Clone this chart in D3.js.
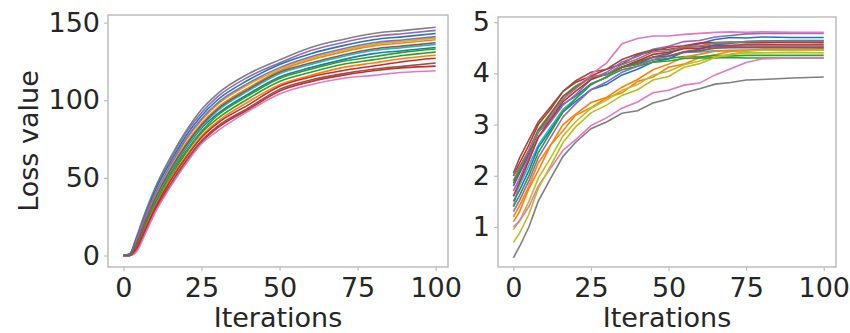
<!DOCTYPE html>
<html><head><meta charset="utf-8">
<script src="https://cdn.jsdelivr.net/npm/d3@7"></script>
<style>
body{margin:0;background:#fff}
text{font-family:"DejaVu Sans",sans-serif;fill:#262626}
</style>
</head><body>
<svg id="chart" width="850" height="333"></svg>
<script>
// ---------- data ----------
const xTicks = [0, 25, 50, 75, 100];
const leftYTicks = [0, 50, 100, 150];
const rightYTicks = [1, 2, 3, 4, 5];
const xLabel = "Iterations";
const yLabel = "Loss value";

const leftIters = [0, 2, 4, 7, 10, 15, 20, 25, 30, 40, 50, 60, 70, 80, 90, 100];
const leftSeries = [
  [0,0,6,21,34,53,69,82,91,104,115,121,126,130,132,134],
  [0,0,8,23,37,56,72,85,95,108,119,126,131,135,137,139],
  [0,0,5,19,32,50,66,79,88,101,112,118,123,126,129,131],
  [0,0,3,15,28,45,60,73,82,94,106,112,116,119,121,122],
  [0,0,10,27,42,62,79,92,102,115,124,132,137,141,143,145],
  [0,0,3,16,29,46,61,74,83,95,107,113,117,120,122,124],
  [0,0,2,14,27,44,59,72,80,93,104,110,114,116,118,119],
  [0,1,11,28,43,63,80,94,104,117,126,134,139,143,145,147],
  [0,0,9,24,38,57,74,87,97,110,120,127,132,136,138,140],
  [0,0,7,22,35,54,70,83,93,106,117,123,128,132,134,136],
  [0,1,10,26,41,60,77,90,100,113,123,130,135,139,141,143],
  [0,0,4,18,31,49,64,77,86,99,110,116,121,124,127,129],
  [0,0,5,20,33,52,67,80,90,103,114,120,125,128,131,133],
  [0,0,4,17,30,48,63,76,85,97,109,115,119,122,125,127],
  [0,0,9,25,39,58,75,88,98,111,121,128,133,137,139,141],
  [0,0,7,22,36,55,71,84,94,107,118,124,129,133,135,137]
];

const rightIters = [0, 2, 5, 8, 12, 16, 20, 25, 30, 35, 40, 45, 50, 55, 60, 65, 70, 75, 80, 90, 100];
const rightSeries = [
  [1.80,2.05,2.40,2.85,3.10,3.40,3.55,3.80,3.92,4.12,4.18,4.32,4.38,4.52,4.58,4.66,4.70,4.69,4.71,4.70,4.70],
  [1.10,1.30,1.75,2.10,2.60,2.88,3.18,3.33,3.52,3.62,3.84,3.93,4.12,4.18,4.31,4.36,4.43,4.44,4.47,4.47,4.48],
  [1.90,2.15,2.50,2.90,3.22,3.55,3.75,3.92,3.98,4.12,4.18,4.26,4.29,4.33,4.32,4.35,4.34,4.35,4.35,4.35,4.35],
  [2.00,2.25,2.60,3.00,3.30,3.65,3.82,3.95,4.08,4.18,4.36,4.43,4.51,4.54,4.59,4.60,4.61,4.60,4.60,4.61,4.60],
  [1.70,1.95,2.35,2.75,3.05,3.38,3.58,3.88,4.02,4.22,4.33,4.47,4.53,4.62,4.64,4.71,4.74,4.77,4.78,4.78,4.78],
  [2.05,2.35,2.70,3.05,3.35,3.65,3.85,4.02,4.08,4.27,4.38,4.46,4.47,4.51,4.52,4.55,4.55,4.56,4.56,4.56,4.56],
  [1.40,1.85,2.30,2.75,3.10,3.50,3.70,3.98,4.20,4.58,4.68,4.73,4.73,4.76,4.78,4.80,4.81,4.80,4.81,4.80,4.80],
  [0.40,0.62,1.00,1.50,1.95,2.38,2.65,2.92,3.05,3.22,3.27,3.42,3.50,3.62,3.70,3.79,3.82,3.87,3.88,3.91,3.93],
  [0.95,1.12,1.50,1.95,2.35,2.78,3.05,3.32,3.48,3.67,3.78,3.97,4.04,4.17,4.24,4.33,4.37,4.40,4.40,4.41,4.40],
  [1.60,1.82,2.20,2.60,2.95,3.30,3.50,3.78,3.93,4.12,4.24,4.31,4.34,4.41,4.42,4.44,4.45,4.45,4.45,4.45,4.45],
  [1.50,1.72,2.10,2.55,2.90,3.25,3.45,3.68,3.78,3.97,4.08,4.22,4.28,4.42,4.47,4.56,4.59,4.62,4.63,4.64,4.64],
  [1.20,1.42,1.80,2.25,2.60,3.00,3.20,3.43,3.53,3.73,3.88,4.07,4.18,4.32,4.37,4.43,4.44,4.45,4.45,4.45,4.45],
  [1.40,1.62,2.00,2.45,2.85,3.25,3.50,3.78,3.93,4.07,4.14,4.22,4.24,4.29,4.30,4.30,4.31,4.30,4.30,4.30,4.30],
  [1.60,1.88,2.30,2.75,3.10,3.45,3.65,3.88,3.98,4.12,4.24,4.37,4.41,4.48,4.49,4.52,4.53,4.53,4.53,4.53,4.53],
  [1.30,1.52,1.90,2.35,2.75,3.15,3.40,3.68,3.83,4.02,4.14,4.27,4.33,4.41,4.44,4.51,4.51,4.52,4.52,4.52,4.52],
  [1.85,2.08,2.45,2.85,3.20,3.55,3.72,3.93,3.98,4.12,4.21,4.32,4.34,4.42,4.44,4.49,4.50,4.50,4.50,4.50,4.50],
  [1.00,1.12,1.40,1.80,2.15,2.50,2.70,2.98,3.13,3.32,3.44,3.62,3.67,3.77,3.81,3.97,4.09,4.21,4.28,4.30,4.30],
  [2.00,2.18,2.50,2.85,3.15,3.50,3.70,3.93,3.98,4.17,4.28,4.42,4.44,4.52,4.54,4.59,4.60,4.62,4.63,4.63,4.63],
  [0.70,0.88,1.25,1.75,2.20,2.65,2.95,3.23,3.38,3.57,3.68,3.87,3.94,4.12,4.19,4.31,4.37,4.43,4.45,4.45,4.45]
];

// ---------- drawing ----------
const svg = d3.select("#chart");
const FS = 27;

function panel(cfg) {
  const x = d3.scaleLinear().domain(cfg.xDomain).range([cfg.left, cfg.right]);
  const y = d3.scaleLinear().domain(cfg.yDomain).range([cfg.bottom, cfg.top]);
  const g = svg.append("g");

  const line = d3.line().x((d, i) => x(cfg.iters[i])).y(d => y(d)).curve(cfg.curve);
  const c = d3.scaleOrdinal().domain(d3.range(cfg.series.length)).range(d3.schemeCategory10);
  g.append("g").selectAll("path").data(cfg.series).join("path")
    .attr("d", line)
    .attr("fill", "none")
    .attr("stroke", (d, i) => c(i))
    .attr("stroke-width", 1.6);

  // spines
  g.append("rect")
    .attr("x", cfg.left).attr("y", cfg.top)
    .attr("width", cfg.right - cfg.left).attr("height", cfg.bottom - cfg.top)
    .attr("fill", "none").attr("stroke", "#bdbdbd").attr("stroke-width", 1.5);

  const xa = g.append("g").attr("transform", `translate(0,${cfg.bottom})`)
    .call(d3.axisBottom(x).tickValues(xTicks).tickSize(4).tickPadding(7).tickFormat(d3.format("d")));
  const ya = g.append("g").attr("transform", `translate(${cfg.left},0)`)
    .call(d3.axisLeft(y).tickValues(cfg.yTicks).tickSize(4).tickPadding(4).tickFormat(d3.format("d")));
  [xa, ya].forEach(a => {
    a.select(".domain").remove();
    a.selectAll(".tick line").attr("stroke", "#bdbdbd").attr("stroke-width", 1.2);
    a.selectAll("text").attr("font-size", FS).attr("font-family", "DejaVu Sans").attr("fill", "#262626");
  });

  g.append("text").attr("x", (cfg.left + cfg.right) / 2).attr("y", 327)
    .attr("text-anchor", "middle").attr("font-size", FS).text(xLabel);
  if (cfg.ylabel) {
    g.append("text").attr("transform", `translate(38,${(cfg.top + cfg.bottom) / 2}) rotate(-90)`)
      .attr("text-anchor", "middle").attr("font-size", FS).text(yLabel);
  }
}

panel({
  left: 108, right: 448, top: 15, bottom: 267,
  xDomain: [-4.95, 103.95], yDomain: [-7.4, 154.9],
  iters: leftIters, series: leftSeries, yTicks: leftYTicks,
  curve: d3.curveMonotoneX, ylabel: true
});
panel({
  left: 498, right: 836, top: 17, bottom: 267,
  xDomain: [-4.95, 103.95], yDomain: [0.22, 5.1],
  iters: rightIters, series: rightSeries, yTicks: rightYTicks,
  curve: d3.curveLinear, ylabel: false
});
</script>
</body></html>
